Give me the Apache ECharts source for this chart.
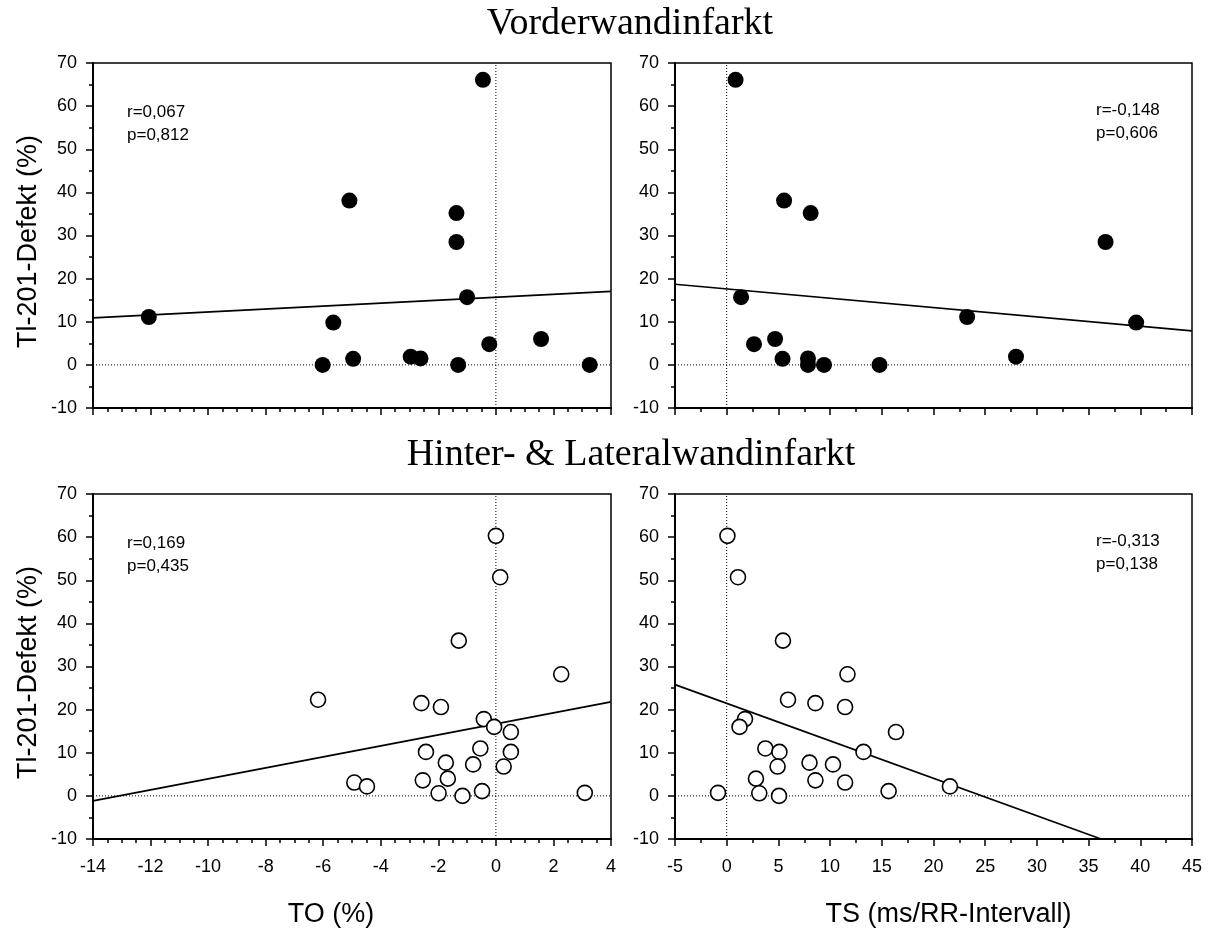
<!DOCTYPE html>
<html>
<head>
<meta charset="utf-8">
<title>Tl-201-Defekt vs. TO / TS</title>
<style>
  html, body { margin: 0; padding: 0; background: #fff; }
  #chart { width: 1213px; height: 931px; }
</style>
</head>
<body>
<div id="chart"></div>
<script src="https://cdn.jsdelivr.net/npm/echarts@6/dist/echarts.min.js"></script>
<script>
// ---- Vorderwandinfarkt: one entry per patient ----
var vorderDefekt = [66.1, 38.1, 35.2, 28.5, 15.7, 11.1, 9.8, 6.0, 4.8, 1.9, 1.4, 1.5, 0, 0, 0];
var vorderTO     = [-0.45, -5.09, -1.37, -1.37, -1.0, -12.06, -5.65, 1.57, -0.23, -2.96, -4.96, -2.62, -6.02, -1.31, 3.26];
var vorderTS     = [0.86, 5.55, 8.12, 36.64, 1.39, 23.25, 39.6, 4.68, 2.64, 27.98, 5.40, 7.86, 7.86, 9.41, 14.78];

// ---- Hinter- & Lateralwandinfarkt: one entry per patient ----
var hinterDefekt = [60.3, 50.7, 36.0, 28.2, 22.3, 21.5, 20.6, 17.8, 16.0, 14.8, 11.0, 10.2, 10.2, 7.7, 7.3, 6.8, 3.1, 2.2, 3.6, 4.0, 0.6, 0, 1.1, 0.7];
var hinterTO     = [0.0, 0.15, -1.29, 2.27, -6.18, -2.59, -1.91, -0.42, -0.06, 0.52, -0.54, -2.43, 0.52, -1.74, -0.79, 0.27, -4.92, -4.48, -2.54, -1.67, -1.99, -1.16, -0.48, 3.09];
var hinterTS     = [0.07, 1.09, 5.44, 11.68, 5.93, 8.58, 11.45, 1.77, 1.24, 16.37, 3.74, 5.10, 13.23, 8.01, 10.28, 4.92, 11.45, 21.59, 8.58, 2.83, 3.15, 5.06, 15.66, -0.84];

// ---- Regression lines (start and end point of each fitted line) ----
var fitVorderTO  = [[-14, 10.9], [4, 17.05]];
var fitVorderTS  = [[-5, 18.7], [45, 7.9]];
var fitHinterTO  = [[-14, -1.16], [4, 21.8]];
var fitHinterTS  = [[-5, 25.8], [36.2, -10]];

// ---- Correlation statistics ----
var statsVorderTO = ['r=0,067', 'p=0,812'];
var statsVorderTS = ['r=-0,148', 'p=0,606'];
var statsHinterTO = ['r=0,169', 'p=0,435'];
var statsHinterTS = ['r=-0,313', 'p=0,138'];

// ---- Axis ranges ----
var toRange = [-14, 4], toStep = 2;
var tsRange = [-5, 45], tsStep = 5;
var defektRange = [-10, 70], defektStep = 10;

var groupTitles = ['Vorderwandinfarkt', 'Hinter- & Lateralwandinfarkt'];
var yName = 'Tl-201-Defekt (%)';
var xNames = ['TO (%)', 'TS (ms/RR-Intervall)'];

function pairs(xs, ys) {
  return xs.map(function (x, i) { return [x, ys[i]]; });
}

var SANS = '"Liberation Sans", Arial, sans-serif';
var SERIF = '"Liberation Serif", "Times New Roman", serif';

var grids = [
  { left: 93,  top: 63,  width: 518, height: 345 },
  { left: 675, top: 63,  width: 517, height: 345 },
  { left: 93,  top: 494, width: 518, height: 345 },
  { left: 675, top: 494, width: 517, height: 345 }
].map(function (g) {
  g.show = true; g.borderColor = '#000'; g.borderWidth = 1.5;
  g.backgroundColor = 'transparent'; g.containLabel = false;
  return g;
});

function xAxis(gi, range, step, minorSplit, showLabels, name, namePad) {
  return {
    type: 'value', gridIndex: gi, min: range[0], max: range[1], interval: step,
    axisLine: { show: true, onZero: false, lineStyle: { color: '#000', width: 2 } },
    axisTick: { show: true, inside: false, length: 7, lineStyle: { color: '#000', width: 1.5 } },
    minorTick: { show: true, splitNumber: minorSplit, length: 4, lineStyle: { color: '#000', width: 1.5 } },
    splitLine: { show: false }, minorSplitLine: { show: false },
    axisLabel: { show: showLabels, margin: 19, fontSize: 18, color: '#000', fontFamily: SANS },
    name: name || '', nameLocation: 'middle', nameGap: 62,
    nameTextStyle: { fontSize: 27, color: '#000', fontFamily: SANS, padding: namePad || 0 }
  };
}

function yAxis(gi, showName) {
  return {
    type: 'value', gridIndex: gi, min: defektRange[0], max: defektRange[1], interval: defektStep,
    axisLine: { show: true, onZero: false, lineStyle: { color: '#000', width: 2 } },
    axisTick: { show: true, inside: false, length: 7, lineStyle: { color: '#000', width: 1.5 } },
    minorTick: { show: true, splitNumber: 2, length: 4, lineStyle: { color: '#000', width: 1.5 } },
    splitLine: { show: false }, minorSplitLine: { show: false },
    axisLabel: { show: true, margin: 16, fontSize: 18, color: '#000', fontFamily: SANS },
    name: showName ? yName : '', nameLocation: 'middle', nameGap: 51,
    nameTextStyle: { fontSize: 27, color: '#000', fontFamily: SANS, padding: [0, 12, 0, 0] }
  };
}

var xAxes = [
  xAxis(0, toRange, toStep, 4, false),
  xAxis(1, tsRange, tsStep, 2, false),
  xAxis(2, toRange, toStep, 4, true, xNames[0], [0, 42, 0, 0]),
  xAxis(3, tsRange, tsStep, 2, true, xNames[1], [0, 0, 0, 30])
];
var yAxes = [yAxis(0, true), yAxis(1, false), yAxis(2, true), yAxis(3, false)];

var dotted = { color: '#000', width: 1, type: [1, 2] };

// dotted zero reference lines for one panel
function zeroLines(gi, xRange) {
  return [
    { type: 'line', xAxisIndex: gi, yAxisIndex: gi, data: [[xRange[0], 0], [xRange[1], 0]],
      symbol: 'none', silent: true, z: 1, lineStyle: dotted },
    { type: 'line', xAxisIndex: gi, yAxisIndex: gi, data: [[0, defektRange[0]], [0, defektRange[1]]],
      symbol: 'none', silent: true, z: 1, lineStyle: dotted }
  ];
}

function fitLine(gi, pts) {
  return { type: 'line', xAxisIndex: gi, yAxisIndex: gi, data: pts, symbol: 'none', silent: true,
           z: 2, clip: true, lineStyle: { color: '#000', width: 1.7 } };
}

function scatter(gi, data, filled) {
  return { type: 'scatter', xAxisIndex: gi, yAxisIndex: gi, data: data, z: 3,
           symbol: 'circle', symbolSize: filled ? 16 : 15,
           itemStyle: filled ? { color: '#000', borderColor: '#000', borderWidth: 0, opacity: 1 }
                             : { color: '#fff', borderColor: '#000', borderWidth: 1.6, opacity: 1 } };
}

var series = []
  .concat(zeroLines(0, toRange), [fitLine(0, fitVorderTO), scatter(0, pairs(vorderTO, vorderDefekt), true)])
  .concat(zeroLines(1, tsRange), [fitLine(1, fitVorderTS), scatter(1, pairs(vorderTS, vorderDefekt), true)])
  .concat(zeroLines(2, toRange), [fitLine(2, fitHinterTO), scatter(2, pairs(hinterTO, hinterDefekt), false)])
  .concat(zeroLines(3, tsRange), [fitLine(3, fitHinterTS), scatter(3, pairs(hinterTS, hinterDefekt), false)]);

function statText(x, y, lines) {
  return lines.map(function (t, i) {
    return { type: 'text', x: x, y: y + i * 23, silent: true,
             style: { text: t, fill: '#000', font: '17px ' + SANS, textAlign: 'left', textVerticalAlign: 'middle' } };
  });
}

var graphics = [
  { type: 'text', x: 630, y: 24, silent: true,
    style: { text: groupTitles[0], fill: '#000', font: '38px ' + SERIF, textAlign: 'center', textVerticalAlign: 'middle' } },
  { type: 'text', x: 631, y: 455, silent: true,
    style: { text: groupTitles[1], fill: '#000', font: '38px ' + SERIF, textAlign: 'center', textVerticalAlign: 'middle' } }
].concat(statText(127, 112, statsVorderTO), statText(1096, 110, statsVorderTS),
         statText(127, 543, statsHinterTO), statText(1096, 541, statsHinterTS));

var chart = echarts.init(document.getElementById('chart'), null, { renderer: 'canvas' });
chart.setOption({
  animation: false,
  backgroundColor: '#fff',
  grid: grids,
  xAxis: xAxes,
  yAxis: yAxes,
  series: series,
  graphic: graphics
});
</script>
</body>
</html>
